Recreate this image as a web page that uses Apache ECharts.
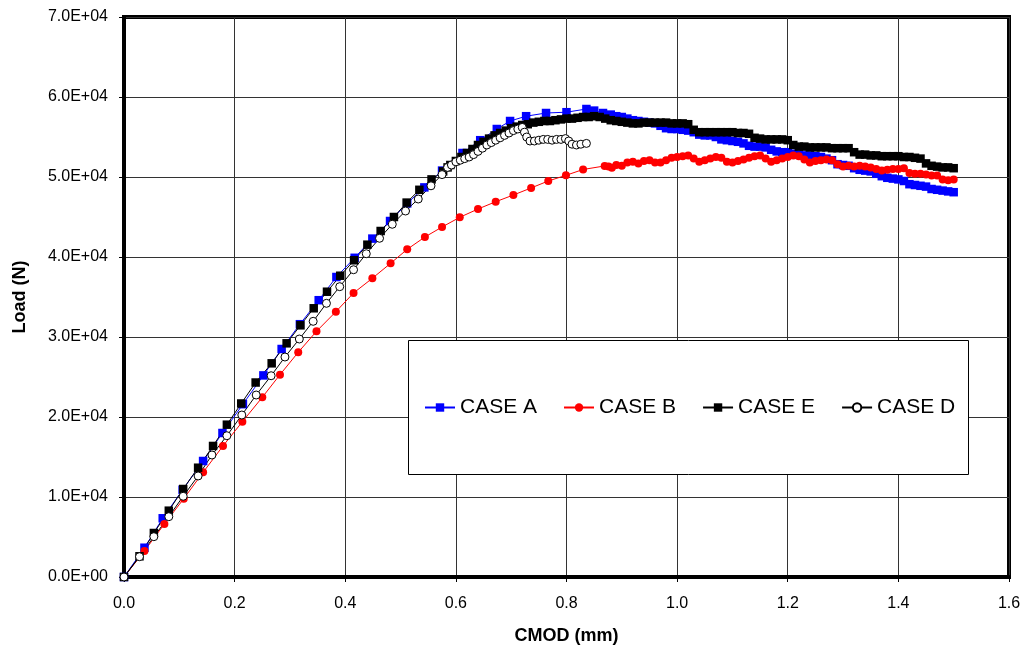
<!DOCTYPE html>
<html>
<head>
<meta charset="utf-8">
<script src="https://cdn.jsdelivr.net/npm/echarts@6/dist/echarts.min.js"></script>
<style>
  html, body { margin: 0; padding: 0; background: #fff; }
  #chart { width: 1026px; height: 657px; }
</style>
</head>
<body>
<div id="chart"></div>
<script>
// CMOD (mm) vs Load (N) for the four test cases
const seriesNames = ['CASE A', 'CASE B', 'CASE E', 'CASE D'];

const caseA = [
  [0, 0], [0.037, 3660], [0.070, 7340], [0.106, 10900], [0.143, 14500], [0.178, 18000],
  [0.215, 21600], [0.252, 25200], [0.285, 28500], [0.318, 31600], [0.352, 34600],
  [0.384, 37500], [0.417, 39900], [0.449, 42300], [0.481, 44500], [0.512, 46700],
  [0.543, 48700], [0.575, 50800], [0.612, 53000], [0.644, 54600], [0.674, 56000],
  [0.698, 57000], [0.727, 57600], [0.763, 58000], [0.800, 58100], [0.836, 58500],
  [0.85, 58300], [0.866, 58000], [0.88, 57800], [0.89, 57600], [0.90, 57500], [0.91, 57300],
  [0.92, 57100], [0.93, 57000], [0.94, 56900], [0.95, 56800], [0.96, 56700], [0.97, 56400],
  [0.98, 56100], [0.99, 56000], [1.00, 56000], [1.01, 55900], [1.02, 55800], [1.03, 55600],
  [1.04, 55300], [1.05, 55200], [1.06, 55200], [1.07, 55000], [1.08, 54700], [1.09, 54600],
  [1.10, 54500], [1.11, 54400], [1.12, 54200], [1.13, 53900], [1.14, 53800], [1.15, 53800],
  [1.16, 53700], [1.17, 53400], [1.18, 53200], [1.19, 53100], [1.20, 53100], [1.21, 52900],
  [1.22, 52800], [1.23, 52700], [1.24, 52700], [1.25, 52600], [1.26, 52500], [1.27, 52300],
  [1.28, 52100], [1.29, 51600], [1.30, 51500], [1.31, 51400], [1.32, 51100], [1.33, 50900],
  [1.34, 50800], [1.35, 50700], [1.36, 50400], [1.37, 50100], [1.38, 49900], [1.39, 49800],
  [1.40, 49700], [1.41, 49500], [1.42, 49100], [1.43, 49000], [1.44, 48900], [1.45, 48800],
  [1.46, 48500], [1.47, 48400], [1.48, 48300], [1.49, 48200], [1.50, 48100]
];

const caseB = [
  [0, 0], [0.037, 3250], [0.073, 6630], [0.108, 9790], [0.143, 13090], [0.179, 16380],
  [0.214, 19410], [0.250, 22460], [0.282, 25290], [0.315, 28090], [0.348, 30710],
  [0.383, 33160], [0.415, 35500], [0.449, 37340], [0.482, 39210], [0.512, 40960],
  [0.544, 42500], [0.575, 43750], [0.607, 44960], [0.640, 46000], [0.672, 46910],
  [0.704, 47750], [0.736, 48630], [0.767, 49500], [0.799, 50210], [0.830, 50940],
  [0.869, 51380], [0.876, 51300], [0.882, 51160],
  [0.89, 51500], [0.90, 51400], [0.91, 51800], [0.92, 51900], [0.93, 51700], [0.94, 52000],
  [0.95, 52100], [0.96, 51800], [0.97, 51800], [0.98, 52100], [0.99, 52400], [1.00, 52500],
  [1.01, 52600], [1.02, 52700], [1.03, 52300], [1.04, 51900], [1.05, 52100], [1.06, 52300],
  [1.07, 52500], [1.08, 52400], [1.09, 51900], [1.10, 51800], [1.11, 52000], [1.12, 52200],
  [1.13, 52400], [1.14, 52600], [1.15, 52700], [1.16, 52300], [1.17, 51900], [1.18, 52100],
  [1.19, 52300], [1.20, 52500], [1.21, 52700], [1.22, 52600], [1.23, 52200], [1.24, 51800],
  [1.25, 52000], [1.26, 52100], [1.27, 52200], [1.28, 52100], [1.29, 51600], [1.30, 51300],
  [1.31, 51400], [1.32, 51300], [1.33, 51400], [1.34, 51300], [1.35, 51200], [1.36, 51000],
  [1.37, 50800], [1.38, 50900], [1.39, 51000], [1.40, 51000], [1.41, 51100], [1.42, 50500],
  [1.43, 50400], [1.44, 50400], [1.45, 50300], [1.46, 50200], [1.47, 50200], [1.48, 49700],
  [1.49, 49600], [1.50, 49700]
];

const caseE = [
  [0, 0], [0.028, 2590], [0.054, 5500], [0.081, 8290], [0.107, 11000], [0.134, 13660],
  [0.161, 16380], [0.186, 19040], [0.212, 21690], [0.238, 24310], [0.267, 26710],
  [0.294, 29210], [0.319, 31460], [0.343, 33590], [0.367, 35660], [0.391, 37660],
  [0.416, 39590], [0.440, 41540], [0.464, 43250], [0.488, 45000], [0.511, 46800],
  [0.534, 48400], [0.556, 49700], [0.577, 50700],
  [0.585, 51200], [0.59, 51500], [0.60, 52000], [0.61, 52500], [0.62, 53000], [0.63, 53500],
  [0.64, 54000], [0.65, 54400], [0.66, 54800], [0.67, 55200], [0.68, 55500], [0.69, 55800],
  [0.70, 56100], [0.71, 56300], [0.72, 56500], [0.73, 56600], [0.74, 56800], [0.75, 56900],
  [0.76, 57000], [0.77, 57000], [0.78, 57100], [0.79, 57200], [0.80, 57300], [0.81, 57300],
  [0.82, 57400], [0.83, 57500], [0.84, 57500], [0.85, 57600], [0.86, 57500], [0.87, 57300],
  [0.88, 57100], [0.89, 57000], [0.90, 56900], [0.91, 56800], [0.92, 56700], [0.93, 56700],
  [0.94, 56800], [0.95, 56800], [0.96, 56800], [0.97, 56800], [0.98, 56800], [0.99, 56700],
  [1.00, 56700], [1.01, 56700], [1.02, 56600], [1.03, 55900], [1.04, 55600], [1.05, 55600],
  [1.06, 55600], [1.07, 55600], [1.08, 55600], [1.09, 55600], [1.10, 55600], [1.11, 55500],
  [1.12, 55500], [1.13, 55400], [1.14, 54900], [1.15, 54800], [1.16, 54700], [1.17, 54700],
  [1.18, 54700], [1.19, 54700], [1.20, 54600], [1.21, 54000], [1.22, 53800], [1.23, 53800],
  [1.24, 53700], [1.25, 53700], [1.26, 53700], [1.27, 53700], [1.28, 53600], [1.29, 53600],
  [1.30, 53600], [1.31, 53600], [1.32, 53100], [1.33, 52800], [1.34, 52800], [1.35, 52700],
  [1.36, 52700], [1.37, 52600], [1.38, 52600], [1.39, 52600], [1.40, 52600], [1.41, 52500],
  [1.42, 52500], [1.43, 52400], [1.44, 52300], [1.45, 51700], [1.46, 51400], [1.47, 51300],
  [1.48, 51200], [1.49, 51200], [1.50, 51100]
];

const caseD = [
  [0, 0], [0.028, 2540], [0.054, 5040], [0.081, 7540], [0.107, 10090], [0.134, 12630],
  [0.159, 15250], [0.186, 17660], [0.213, 20250], [0.239, 22750], [0.266, 25160],
  [0.291, 27500], [0.317, 29750], [0.342, 31960], [0.366, 34210], [0.390, 36290],
  [0.415, 38410], [0.438, 40410], [0.462, 42340], [0.485, 44090], [0.509, 45750],
  [0.532, 47250], [0.555, 48900], [0.575, 50300],
  [0.585, 51200], [0.592, 51500], [0.600, 51900], [0.608, 52100], [0.616, 52300],
  [0.624, 52500], [0.632, 52800], [0.640, 53200], [0.648, 53600], [0.656, 54000],
  [0.664, 54300], [0.672, 54600], [0.680, 54900], [0.688, 55200], [0.696, 55500],
  [0.704, 55800], [0.712, 56000], [0.720, 56200], [0.724, 55600], [0.728, 55000],
  [0.734, 54500], [0.742, 54500], [0.750, 54600], [0.758, 54700], [0.766, 54700],
  [0.774, 54600], [0.782, 54700], [0.790, 54700], [0.798, 54800], [0.804, 54500],
  [0.810, 54100], [0.818, 54000], [0.826, 54100], [0.836, 54200]
];

// Axis ranges and tick spacing
const xRange = [0, 1.6, 0.2];
const yRange = [0, 70000, 10000];

const FONT = '"Liberation Sans", Arial, sans-serif';

// Load labels in Excel-style scientific notation, e.g. 7.0E+04
function sciLabel(v) {
  if (v === 0) return '0.0E+00';
  const exp = Math.floor(Math.log10(Math.abs(v)));
  const mant = v / Math.pow(10, exp);
  return mant.toFixed(1) + 'E+' + String(exp).padStart(2, '0');
}

const chart = echarts.init(document.getElementById('chart'), null, { renderer: 'canvas' });

function lineSeries(name, data, symbol, color, fill, size) {
  return {
    name: name,
    type: 'line',
    data: data,
    symbol: symbol,
    symbolSize: size,
    showAllSymbol: true,
    animation: false,
    lineStyle: { color: color, width: 1 },
    itemStyle: { color: fill, borderColor: color, borderWidth: fill === '#ffffff' ? 1 : 0 },
    emphasis: { disabled: true }
  };
}

chart.setOption({
  animation: false,
  backgroundColor: '#ffffff',
  textStyle: { fontFamily: FONT },
  grid: {
    left: 124, top: 17, width: 885, height: 560,
    show: true, borderColor: '#000', borderWidth: 4, backgroundColor: 'transparent'
  },
  xAxis: {
    type: 'value',
    min: xRange[0], max: xRange[1], interval: xRange[2],
    name: 'CMOD (mm)',
    nameLocation: 'middle',
    nameGap: 50,
    nameTextStyle: { fontFamily: FONT, fontSize: 18, fontWeight: 'bold', color: '#000' },
    axisLine: { show: true, lineStyle: { color: '#000', width: 4 } },
    axisTick: { show: true, length: 5, lineStyle: { color: '#000', width: 1 } },
    axisLabel: {
      fontFamily: FONT, fontSize: 16, color: '#000', margin: 19,
      formatter: v => v.toFixed(1)
    },
    splitLine: { show: true, lineStyle: { color: '#333', width: 1 } }
  },
  yAxis: {
    type: 'value',
    min: yRange[0], max: yRange[1], interval: yRange[2],
    name: 'Load (N)',
    nameLocation: 'middle',
    nameGap: 95,
    nameTextStyle: { fontFamily: FONT, fontSize: 18, fontWeight: 'bold', color: '#000' },
    axisLine: { show: true, lineStyle: { color: '#000', width: 4 } },
    axisTick: { show: true, length: 5, lineStyle: { color: '#000', width: 1 } },
    axisLabel: { fontFamily: FONT, fontSize: 16, color: '#000', margin: 16, formatter: sciLabel },
    splitLine: { show: true, lineStyle: { color: '#333', width: 1 } }
  },
  graphic: {
    elements: [{
      type: 'rect',
      z: 3,
      shape: { x: 408.5, y: 340.5, width: 560, height: 134 },
      style: { fill: '#ffffff', stroke: '#000', lineWidth: 1 }
    }]
  },
  legend: {
    data: seriesNames,
    left: 424,
    top: 397,
    padding: 0,
    z: 5,
    itemWidth: 30,
    itemHeight: 10.5,
    itemGap: 26,
    textStyle: { fontFamily: FONT, fontSize: 21, color: '#000' },
    selectedMode: false
  },
  series: [
    lineSeries(seriesNames[0], caseA, 'rect', '#0000ff', '#0000ff', 8.5),
    lineSeries(seriesNames[1], caseB, 'circle', '#ff0000', '#ff0000', 8),
    lineSeries(seriesNames[2], caseE, 'rect', '#000000', '#000000', 8.5),
    lineSeries(seriesNames[3], caseD, 'circle', '#000000', '#ffffff', 8)
  ]
});
</script>
</body>
</html>
